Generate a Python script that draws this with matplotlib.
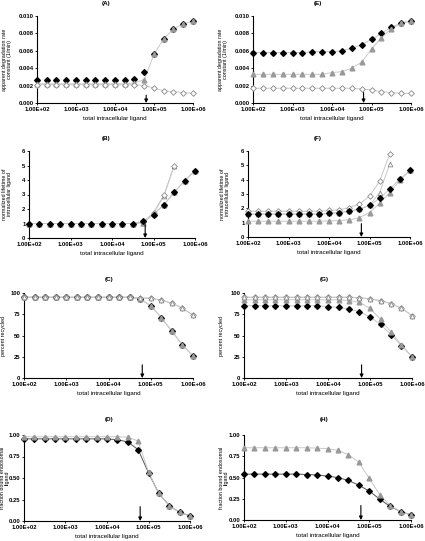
import matplotlib
matplotlib.use('agg')
import matplotlib.pyplot as plt
from matplotlib.ticker import FixedLocator, FixedFormatter

plt.rcParams['font.family'] = ['Liberation Sans', 'DejaVu Sans']
plt.rcParams['font.weight'] = 'bold'

# total intracellular ligand (4 points per decade)
ligand = [1.00e2, 1.78e2, 3.16e2, 5.62e2, 1.00e3, 1.78e3, 3.16e3, 5.62e3, 1.00e4,
          1.78e4, 3.16e4, 5.62e4, 1.00e5, 1.78e5, 3.16e5, 5.62e5, 1.00e6]
arrow_x = 6.3e4

# (A) degradation rate constant
a_black = [0.0026, 0.0026, 0.0026, 0.0026, 0.0026, 0.0026, 0.0026, 0.0026, 0.0026,
           0.0027, 0.0028, 0.0036, 0.0056, 0.0074, 0.0085, 0.0091, 0.0094]
a_gray = [0.0022, 0.0022, 0.0022, 0.0022, 0.0022, 0.0022, 0.0022, 0.0022, 0.0022,
          0.0022, 0.0023, 0.0027, 0.0056, 0.0074, 0.0085, 0.0091, 0.0094]
a_open_d = [0.0021, 0.0021, 0.0021, 0.0021, 0.0021, 0.0021, 0.0021, 0.0021, 0.0021,
            0.0021, 0.0021, 0.0020, 0.0017, 0.0014, 0.0013, 0.0012, 0.0011]

# (E) degradation rate constant
e_black = [0.0058, 0.0058, 0.0058, 0.0058, 0.0058, 0.0058, 0.0059, 0.0059, 0.0059,
           0.0060, 0.0063, 0.0067, 0.0073, 0.0080, 0.0087, 0.0092, 0.0094]
e_gray = [0.0033, 0.0033, 0.0033, 0.0033, 0.0033, 0.0033, 0.0033, 0.0033, 0.0035,
          0.0036, 0.0040, 0.0047, 0.0062, 0.0075, 0.0085, 0.0092, 0.0094]
e_open_d = [0.0017, 0.0017, 0.0017, 0.0017, 0.0017, 0.0017, 0.0017, 0.0017, 0.0017,
            0.0017, 0.0017, 0.0016, 0.0015, 0.0013, 0.0012, 0.0011, 0.0011]

# (B) normalized lifetime
b_black = [1.0, 1.0, 1.0, 1.0, 1.0, 1.0, 1.0, 1.0, 1.0, 1.0, 1.0,
           1.15, 1.6, 2.3, 3.15, 3.95, 4.65]
b_gray = [1.0, 1.0, 1.0, 1.0, 1.0, 1.0, 1.0, 1.0, 1.0, 1.0, 1.0,
          1.05, 1.65, 2.3, 3.15, 3.95, 4.65]
b_open_d = [1.0, 1.0, 1.0, 1.0, 1.0, 1.0, 1.0, 1.0, 1.0, 1.0, 1.0,
            1.1, 1.75, 2.95, 5.0]
b_open_t = [1.0, 1.0, 1.0, 1.0, 1.0, 1.0, 1.0, 1.0, 1.0, 1.0, 1.0,
            1.05, 1.7, 2.9, 5.0]

# (F) normalized lifetime
f_black = [1.6, 1.6, 1.6, 1.6, 1.6, 1.6, 1.6, 1.6, 1.65, 1.7, 1.8,
           1.95, 2.2, 2.7, 3.35, 4.05, 4.65]
f_gray = [1.1, 1.1, 1.1, 1.1, 1.1, 1.1, 1.1, 1.1, 1.12, 1.15, 1.2,
          1.35, 1.7, 2.35, 3.1, 3.95, 4.65]
f_open_d = [1.8, 1.8, 1.8, 1.8, 1.8, 1.8, 1.8, 1.8, 1.85, 1.9, 2.05,
            2.3, 2.85, 3.9, 5.8]
f_open_t = [1.6, 1.6, 1.6, 1.6, 1.6, 1.6, 1.6, 1.6, 1.65, 1.7, 1.8,
            1.95, 2.2, 3.1, 5.1]

# (C) percent recycled
c_low = [95, 95, 95, 95, 95, 95, 95, 95, 95, 95, 95, 93, 85, 71, 55, 39, 26]
c_high = [95, 95, 95, 95, 95, 95, 95, 95, 95, 95, 95, 94, 94, 91.5, 88, 82, 74]

# (G) percent recycled
g_black = [85, 85, 85, 85, 85, 85, 85, 85, 84, 83, 81, 78, 72, 63, 51, 38, 25]
g_gray = [92, 92, 92, 92, 92, 92, 92, 92, 92, 92, 91, 89, 82, 69, 54, 39, 25]
g_open = [95, 95, 95, 95, 95, 95, 95, 95, 95, 95, 95, 94.5, 93, 91, 87.5, 82, 73.5]

# (D) fraction bound endosomal ligand
d_black = [0.955, 0.955, 0.955, 0.955, 0.955, 0.955, 0.955, 0.955, 0.955,
           0.945, 0.92, 0.83, 0.56, 0.32, 0.18, 0.10, 0.06]
d_gray = [0.98, 0.98, 0.98, 0.98, 0.98, 0.98, 0.98, 0.98, 0.98,
          0.98, 0.975, 0.93, 0.57, 0.32, 0.18, 0.10, 0.06]

# (H) fraction bound endosomal ligand
h_black = [0.54, 0.54, 0.54, 0.54, 0.54, 0.54, 0.535, 0.53, 0.515,
           0.50, 0.465, 0.41, 0.34, 0.245, 0.16, 0.10, 0.06]
h_gray = [0.85, 0.85, 0.85, 0.85, 0.85, 0.85, 0.85, 0.845, 0.84,
          0.82, 0.77, 0.68, 0.49, 0.30, 0.17, 0.10, 0.06]

x_ticks = [1e2, 1e3, 1e4, 1e5, 1e6]
x_ticklabels = ['1.00E+02', '1.00E+03', '1.00E+04', '1.00E+05', '1.00E+06']

STYLES = {
    'black': dict(marker='D', mfc='black', mec='black', ms=2.9),
    'gray': dict(marker='^', mfc='#999999', mec='#999999', ms=3.4),
    'open_d': dict(marker='D', mfc='white', mec='#888888', ms=2.9, mew=0.6),
    'open_t': dict(marker='^', mfc='white', mec='#888888', ms=3.4, mew=0.6),
}

W, H = 425, 541
fig = plt.figure(figsize=(W / 100, H / 100), dpi=100)


def px_axes(x0, y0, x1, y1):
    return fig.add_axes([x0 / W, 1 - y1 / H, (x1 - x0) / W, (y1 - y0) / H])


def panel(box, title, title_x, series, ylim, yticks, yticklabels, ylabel,
          ylabel_x, arrow_top):
    ax = px_axes(*box)
    for ys, key, lc in series:
        ax.plot(ligand[:len(ys)], ys, color=lc, lw=0.7, zorder=2, clip_on=False)
    for ys, key, lc in series:
        ax.plot(ligand[:len(ys)], ys, ls='none', zorder=3, clip_on=False, **STYLES[key])
    ax.set_xscale('log')
    ax.set_xlim(1e2, 1e6)
    ax.set_ylim(*ylim)
    ax.xaxis.set_major_locator(FixedLocator(x_ticks))
    ax.xaxis.set_major_formatter(FixedFormatter(x_ticklabels))
    ax.xaxis.set_minor_locator(FixedLocator([]))
    ax.set_yticks(yticks)
    ax.set_yticklabels(yticklabels)
    ax.tick_params(labelsize=4.2, length=1.6, width=0.6, pad=1.0)
    for s in ['top', 'right']:
        ax.spines[s].set_visible(False)
    for s in ['left', 'bottom']:
        ax.spines[s].set_linewidth(0.8)
    ax.set_xlabel('total intracellular ligand', fontsize=4.5, labelpad=3)
    ax.set_ylabel(ylabel, fontsize=3.9, linespacing=0.85)
    ax.yaxis.label.set_va('center')
    ax.yaxis.set_label_coords((ylabel_x - box[0]) / (box[2] - box[0]), 0.5)
    ax.annotate('', xy=(arrow_x, ylim[0]), xytext=(arrow_x, arrow_top),
                arrowprops=dict(arrowstyle='-|>', color='black', lw=0.8,
                                mutation_scale=5, shrinkA=0, shrinkB=0))
    fig.text(title_x / W, 1 - title[1] / H, title[0], fontsize=4.5,
             ha='center', va='center')
    return ax


LG = '#c8c8c8'
DG = '#555555'
rate_ticks = [0.0, 0.002, 0.004, 0.006, 0.008, 0.010]
rate_labels = ['0.000', '0.002', '0.004', '0.006', '0.008', '0.010']
life_ticks = [0, 1, 2, 3, 4, 5, 6]
life_labels = ['0', '1', '2', '3', '4', '5', '6']
rec_ticks = [0, 25, 50, 75, 100]
rec_labels = ['0', '25', '50', '75', '100']
frac_ticks = [0, 0.25, 0.5, 0.75, 1.0]
frac_labels = ['0.00', '0.25', '0.50', '0.75', '1.00']
rate_lbl = 'apparent degradation rate\nconstant (1/min)'
life_lbl = 'normalized lifetime of\nintracellular ligand'
rec_lbl = 'percent recycled'
frac_lbl = 'fraction bound endosomal\nligand'

panel((37, 16, 193, 103), ('(A)', 4), 106,
      [(a_black, 'black', 'none'), (a_gray, 'gray', LG), (a_open_d, 'open_d', LG)],
      (0, 0.010), rate_ticks, rate_labels, rate_lbl, 7, 0.0009)
panel((253, 16, 411, 103), ('(E)', 4), 318,
      [(e_black, 'black', LG), (e_gray, 'gray', LG), (e_open_d, 'open_d', LG)],
      (0, 0.010), rate_ticks, rate_labels, rate_lbl, 223, 0.0012)
panel((29, 151, 195, 238), ('(B)', 139), 106,
      [(b_open_t, 'open_t', LG), (b_open_d, 'open_d', LG), (b_gray, 'gray', LG),
       (b_black, 'black', LG)],
      (0, 6), life_ticks, life_labels, life_lbl, 7, 0.92)
panel((248, 151, 410, 237), ('(F)', 139), 318,
      [(f_open_t, 'open_t', LG), (f_open_d, 'open_d', LG), (f_gray, 'gray', LG),
       (f_black, 'black', LG)],
      (0, 6), life_ticks, life_labels, life_lbl, 225, 0.93)
panel((24, 293, 193, 378), ('(C)', 279), 109,
      [(c_low, 'black', LG), (c_low, 'gray', LG), (c_high, 'open_d', LG),
       (c_high, 'open_t', LG)],
      (0, 100), rec_ticks, rec_labels, rec_lbl, 4, 15.5)
panel((244, 293, 412, 378), ('(G)', 279), 324,
      [(g_black, 'black', LG), (g_gray, 'gray', LG), (g_open, 'open_d', LG),
       (g_open, 'open_t', LG)],
      (0, 100), rec_ticks, rec_labels, rec_lbl, 222, 15.5)
panel((24, 435, 190, 521), ('(D)', 419), 109,
      [(d_black, 'black', DG), (d_gray, 'gray', LG)],
      (0, 1.0), frac_ticks, frac_labels, frac_lbl, 5, 0.167)
panel((244, 435, 411, 520), ('(H)', 419), 324,
      [(h_black, 'black', DG), (h_gray, 'gray', LG)],
      (0, 1.0), frac_ticks, frac_labels, frac_lbl, 224, 0.17)

fig.savefig('out.png', dpi=100)
